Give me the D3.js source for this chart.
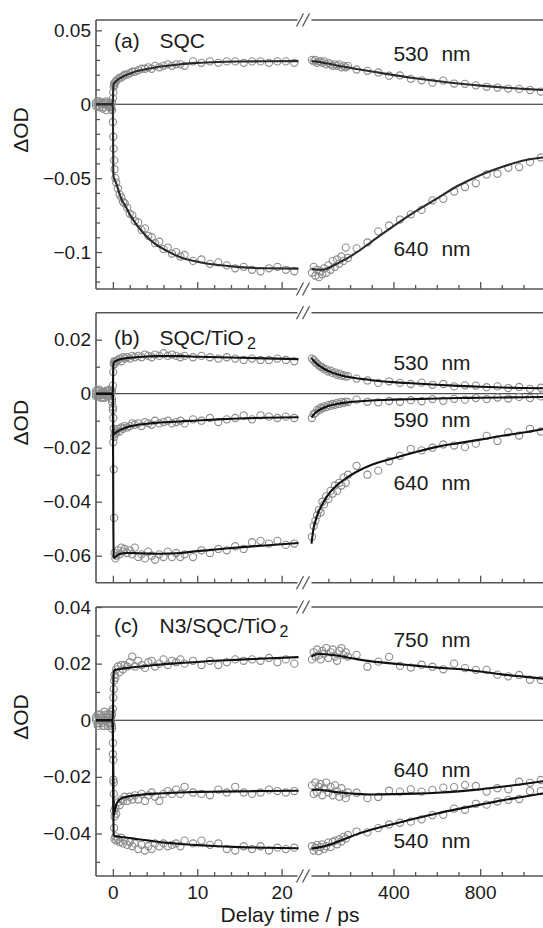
<!DOCTYPE html>
<html>
<head>
<meta charset="utf-8">
<script src="https://cdn.jsdelivr.net/npm/d3@7"></script>
<style>
body { margin: 0; background: #fff; }
svg { display: block; font-family: "Liberation Sans", Arial, Helvetica, sans-serif; }
</style>
</head>
<body>
<script>
// delay times (ps) of the measured points: short window and long window
var tLeft = [-2.0, -1.8, -1.6, -1.4, -1.2, -1.0, -0.8, -0.6, -0.4, -0.2,
  -0.1, 0.0, 0.05, 0.1, 0.15, 0.2, 0.3, 0.4,
  0.6, 0.8, 1.0, 1.2, 1.4, 1.7, 2.0,
  2.3, 2.6, 3.0, 3.4, 3.8, 4.2, 4.6, 5.0,
  5.5, 6.0, 6.5, 7.0, 7.5, 8.0, 8.5,
  9.5, 10.5, 11.5, 12.5, 13.5, 14.5, 15.5, 16.5, 17.5, 18.5, 19.5, 20.5, 21.5];
var tRight = [24, 32, 40, 48, 56, 64, 72, 80, 90, 100, 110, 120, 130, 140, 150, 160, 170, 180, 190,
  230, 280, 330, 380, 430, 480, 530, 580, 630, 680, 730, 780, 830, 880, 930, 980, 1030, 1080];

// time grid of the fitted curves
var fitTLeft = [-2, -0.05, 0, 0.05, 0.1, 0.2, 0.4, 0.7, 1.0, 1.5, 2, 3, 4, 5, 6.5, 8, 10, 12.5, 15, 18, 22];
var fitTRight = [22, 30, 40, 55, 70, 90, 115, 145, 180, 230, 300, 400, 500, 600, 700, 800, 900, 1000, 1090];

// tick labels
var yTicksA = [0.05, 0, -0.05, -0.1];
var yTicksB = [0.02, 0, -0.02, -0.04, -0.06];
var yTicksC = [0.04, 0.02, 0, -0.02, -0.04];
var xTicksLeft = [0, 10, 20];
var xTicksRight = [400, 800];

// (a) SQC
var a530Left = [0.001, -0.001, 0.002, 0.000, -0.002, 0.001, 0.002, -0.001, 0.000, -0.003,
  0.001, 0.004, 0.008, 0.012, 0.014, 0.013, 0.015, 0.016,
  0.017, 0.018, 0.018, 0.019, 0.020, 0.020, 0.021,
  0.022, 0.022, 0.023, 0.024, 0.024, 0.025, 0.024, 0.026,
  0.025, 0.026, 0.027, 0.026, 0.027, 0.027, 0.026,
  0.029, 0.028, 0.029, 0.028, 0.029, 0.029, 0.028, 0.029, 0.029, 0.028, 0.029, 0.029, 0.028];
var a530Right = [0.030, 0.029, 0.030, 0.028, 0.029, 0.029, 0.028, 0.029, 0.027, 0.028, 0.027, 0.026, 0.027, 0.026, 0.027, 0.025, 0.026, 0.025, 0.026,
  0.0235, 0.0226, 0.0215, 0.0193, 0.0195, 0.0172, 0.0162, 0.0146, 0.0160, 0.0140, 0.0138, 0.0128, 0.0118, 0.0113, 0.0106, 0.0104, 0.0096, 0.0086];
var a530FitLeft = [0, 0, 0.002, 0.0125, 0.0137, 0.0145, 0.0157, 0.0171, 0.0181, 0.0196, 0.0207, 0.0226, 0.0238, 0.0249, 0.026, 0.0271, 0.028, 0.0286, 0.0289, 0.0291, 0.0292];
var a530FitRight = [0.0292, 0.0291, 0.029, 0.0287, 0.0283, 0.0277, 0.027, 0.0261, 0.0252, 0.0239, 0.0222, 0.0197, 0.0176, 0.0157, 0.014, 0.0126, 0.0114, 0.0104, 0.0096];

var a640Left = [-0.001, 0.002, -0.002, 0.001, -0.003, 0.000, -0.004, 0.001, -0.002, -0.001,
  -0.004, -0.012, -0.022, -0.030, -0.038, -0.044, -0.050, -0.053,
  -0.057, -0.061, -0.063, -0.066, -0.067, -0.070, -0.074,
  -0.075, -0.079, -0.080, -0.085, -0.084, -0.089, -0.090, -0.094,
  -0.093, -0.098, -0.097, -0.101, -0.100, -0.103, -0.102,
  -0.106, -0.105, -0.108, -0.107, -0.109, -0.111, -0.110, -0.112, -0.113, -0.111, -0.110, -0.112, -0.113];
var a640Right = [-0.114, -0.110, -0.116, -0.112, -0.117, -0.113, -0.115, -0.111, -0.114, -0.109, -0.112, -0.106, -0.110, -0.105, -0.108, -0.103, -0.106, -0.097, -0.104,
  -0.0975, -0.0935, -0.0860, -0.0820, -0.0780, -0.0745, -0.0715, -0.0650, -0.0640, -0.0590, -0.0560, -0.0535, -0.0475, -0.0470, -0.0430, -0.0425, -0.0390, -0.0360];
var a640FitLeft = [0, 0, -0.003, -0.046, -0.0495, -0.051, -0.0535, -0.059, -0.064, -0.069, -0.0745, -0.083, -0.0895, -0.0945, -0.0995, -0.1035, -0.1065, -0.1088, -0.1102, -0.111, -0.1112];
var a640FitRight = [-0.1112, -0.1115, -0.1118, -0.112, -0.112, -0.1115, -0.1098, -0.1075, -0.1048, -0.1003, -0.0929, -0.0825, -0.0727, -0.0638, -0.055, -0.048, -0.0425, -0.038, -0.036];

// (b) SQC/TiO2
var b530Left = [0.001, -0.001, 0.0015, 0.000, -0.0015, 0.0005, 0.001, -0.0005, 0.0015, 0.000,
  0.001, 0.003, 0.008, 0.011, 0.012, 0.011, 0.012, 0.012,
  0.0125, 0.013, 0.012, 0.0135, 0.013, 0.0135, 0.013,
  0.014, 0.0135, 0.014, 0.0135, 0.0145, 0.014, 0.0135, 0.0145,
  0.014, 0.015, 0.014, 0.0145, 0.014, 0.0135, 0.014,
  0.0135, 0.014, 0.0135, 0.013, 0.0135, 0.013, 0.0125, 0.013, 0.0125, 0.0125, 0.013, 0.0125, 0.012];
var b530Right = [0.013, 0.0125, 0.0115, 0.0112, 0.0105, 0.0100, 0.0098, 0.0090, 0.0091, 0.0082, 0.0085, 0.0076, 0.0079, 0.0070, 0.0074, 0.0066, 0.0069, 0.0063, 0.0065,
  0.0056, 0.0049, 0.0040, 0.0046, 0.0040, 0.0036, 0.0041, 0.0033, 0.0036, 0.0027, 0.0031, 0.0030, 0.0024, 0.0027, 0.0021, 0.0025, 0.0018, 0.0022];
var b530FitLeft = [0, 0, 0.001, 0.0105, 0.0115, 0.0118, 0.0122, 0.0126, 0.0128, 0.0131, 0.0133, 0.0136, 0.0138, 0.0139, 0.0139, 0.0139, 0.0137, 0.0135, 0.0133, 0.0131, 0.0128];
var b530FitRight = [0.0133, 0.0124, 0.0116, 0.0105, 0.0097, 0.0088, 0.0079, 0.0071, 0.0064, 0.0057, 0.0050, 0.0043, 0.0038, 0.0033, 0.0029, 0.0026, 0.0023, 0.0021, 0.0020];

var b590Left = [-0.001, 0.001, 0.000, -0.0015, 0.0005, -0.0005, 0.001, -0.001, 0.000, 0.0005,
  -0.003, -0.006, -0.009, -0.013, -0.016, -0.015, -0.014, -0.0145,
  -0.013, -0.014, -0.0125, -0.013, -0.012, -0.0125, -0.012,
  -0.011, -0.0115, -0.011, -0.012, -0.0105, -0.011, -0.0115, -0.010,
  -0.011, -0.0105, -0.010, -0.011, -0.0105, -0.010, -0.011,
  -0.0095, -0.010, -0.009, -0.0105, -0.0095, -0.009, -0.008, -0.0095, -0.008, -0.0085, -0.009, -0.0085, -0.009];
var b590Right = [-0.0090, -0.0075, -0.0072, -0.0060, -0.0062, -0.0052, -0.0055, -0.0047, -0.0050, -0.0042, -0.0045, -0.0038, -0.0041, -0.0034, -0.0038, -0.0030, -0.0034, -0.0029, -0.0031,
  -0.0022, -0.0030, -0.0032, -0.0027, -0.0030, -0.0024, -0.0028, -0.0020, -0.0026, -0.0019, -0.0022, -0.0016, -0.0020, -0.0014, -0.0018, -0.0012, -0.0016, -0.0010];
var b590FitLeft = [0, 0, -0.001, -0.0135, -0.015, -0.0148, -0.0143, -0.0137, -0.0132, -0.0126, -0.0121, -0.0115, -0.0111, -0.0108, -0.0105, -0.0103, -0.0099, -0.0095, -0.0092, -0.0089, -0.0087];
var b590FitRight = [-0.0088, -0.0080, -0.0071, -0.0062, -0.0055, -0.0048, -0.0042, -0.0037, -0.0033, -0.0029, -0.0025, -0.0022, -0.0020, -0.0018, -0.0016, -0.0015, -0.0014, -0.0013, -0.0012];

var b640Left = [0.000, -0.001, 0.001, -0.0005, 0.0005, -0.0015, 0.000, 0.001, -0.001, 0.0005,
  -0.002, -0.005, -0.018, -0.028, -0.046, -0.059, -0.061, -0.060,
  -0.058, -0.0595, -0.057, -0.0585, -0.0575, -0.059, -0.058,
  -0.0595, -0.057, -0.0605, -0.0595, -0.061, -0.0585, -0.060, -0.0615,
  -0.0595, -0.0605, -0.0585, -0.0605, -0.059, -0.0605, -0.0595,
  -0.0605, -0.058, -0.059, -0.0575, -0.058, -0.0565, -0.0575, -0.055, -0.0545, -0.0555, -0.0545, -0.056, -0.0555];
var b640Right = [-0.053, -0.049, -0.047, -0.045, -0.043, -0.044, -0.040, -0.041, -0.038, -0.039, -0.036, -0.037, -0.034, -0.036, -0.033, -0.034, -0.031, -0.033, -0.030,
  -0.0267, -0.0300, -0.0285, -0.0250, -0.0230, -0.0205, -0.0210, -0.0200, -0.0188, -0.0192, -0.0198, -0.0185, -0.0156, -0.0175, -0.0143, -0.0155, -0.0130, -0.0140];
var b640FitLeft = [0, 0, -0.002, -0.045, -0.0605, -0.0608, -0.0602, -0.0595, -0.0592, -0.059, -0.059, -0.0591, -0.0592, -0.0593, -0.0592, -0.059, -0.0583, -0.0576, -0.0569, -0.0562, -0.0553];
var b640FitRight = [-0.0555, -0.0505, -0.0472, -0.0437, -0.0413, -0.0385, -0.0358, -0.0335, -0.0314, -0.0289, -0.0263, -0.0239, -0.0217, -0.0197, -0.0183, -0.0170, -0.0156, -0.0144, -0.0131];

// (c) N3/SQC/TiO2
var c750Left = [0.001, -0.001, 0.002, 0.000, 0.001, -0.002, 0.002, 0.001, -0.001, 0.003,
  0.002, 0.004, 0.008, 0.011, 0.014, 0.016, 0.015, 0.018,
  0.019, 0.017, 0.0195, 0.018, 0.0195, 0.019, 0.0205,
  0.0225, 0.019, 0.021, 0.0195, 0.0185, 0.0205, 0.021, 0.019,
  0.020, 0.0215, 0.0195, 0.021, 0.0205, 0.0215, 0.020,
  0.021, 0.0195, 0.021, 0.0195, 0.0205, 0.0215, 0.021, 0.0215, 0.021, 0.022, 0.0205, 0.0215, 0.020];
var c750Right = [0.0215, 0.0240, 0.0225, 0.0250, 0.0230, 0.0215, 0.0245, 0.0235, 0.0255, 0.0220, 0.0240, 0.0250, 0.0225, 0.0210, 0.0245, 0.0255, 0.0230, 0.0240, 0.0225,
  0.0231, 0.0189, 0.0207, 0.0224, 0.0192, 0.0186, 0.0196, 0.0189, 0.0180, 0.0200, 0.0184, 0.0178, 0.0178, 0.0161, 0.0155, 0.0160, 0.0143, 0.0142];
var c750FitLeft = [0, 0, 0.001, 0.012, 0.0172, 0.0177, 0.0179, 0.018, 0.0182, 0.0184, 0.0186, 0.0189, 0.0192, 0.0195, 0.0199, 0.0202, 0.0206, 0.0211, 0.0214, 0.0218, 0.0223];
var c750FitRight = [0.0224, 0.0229, 0.0232, 0.0234, 0.0234, 0.0233, 0.0231, 0.0228, 0.0223, 0.0216, 0.0208, 0.0200, 0.0193, 0.0186, 0.0181, 0.0172, 0.0162, 0.0154, 0.0147];

var c640Left = [0.000, 0.002, -0.001, 0.001, -0.002, 0.003, 0.000, 0.002, -0.001, 0.001,
  -0.003, -0.012, -0.021, -0.026, -0.032, -0.034, -0.031, -0.033,
  -0.029, -0.030, -0.028, -0.0285, -0.027, -0.0285, -0.027,
  -0.028, -0.0265, -0.028, -0.026, -0.0285, -0.0265, -0.0255, -0.027,
  -0.0285, -0.026, -0.025, -0.026, -0.0245, -0.026, -0.0235,
  -0.0255, -0.026, -0.0265, -0.0245, -0.0255, -0.0235, -0.0255, -0.026, -0.0255, -0.0245, -0.025, -0.0255, -0.025];
var c640Right = [-0.0230, -0.0260, -0.0220, -0.0255, -0.0235, -0.0225, -0.0265, -0.0240, -0.0220, -0.0255, -0.0235, -0.0265, -0.0230, -0.0250, -0.0270, -0.0240, -0.0260, -0.0275, -0.0255,
  -0.0256, -0.0275, -0.0271, -0.0249, -0.0252, -0.0244, -0.0252, -0.0246, -0.0238, -0.0236, -0.0228, -0.0232, -0.0252, -0.0240, -0.0244, -0.0217, -0.0221, -0.0211];
var c640FitLeft = [0, 0, -0.002, -0.025, -0.0335, -0.0322, -0.0298, -0.0283, -0.0276, -0.0271, -0.0268, -0.0264, -0.0261, -0.0259, -0.0257, -0.0255, -0.0253, -0.0252, -0.0251, -0.025, -0.0249];
var c640FitRight = [-0.0247, -0.0246, -0.0245, -0.0245, -0.0246, -0.0248, -0.0251, -0.0254, -0.0257, -0.026, -0.0262, -0.0261, -0.0259, -0.0256, -0.0251, -0.0244, -0.0235, -0.0225, -0.0215];

var c540Left = [0.001, -0.002, 0.000, 0.002, -0.001, 0.000, 0.001, -0.002, 0.002, -0.001,
  -0.002, -0.008, -0.014, -0.022, -0.038, -0.042, -0.041, -0.0425,
  -0.042, -0.043, -0.0415, -0.0435, -0.0425, -0.044, -0.043,
  -0.0445, -0.0435, -0.0455, -0.044, -0.046, -0.0445, -0.0455, -0.0435,
  -0.0445, -0.0435, -0.0445, -0.044, -0.0435, -0.0445, -0.0425,
  -0.0435, -0.0425, -0.044, -0.0435, -0.0455, -0.046, -0.0445, -0.0455, -0.0445, -0.046, -0.045, -0.0455, -0.045];
var c540Right = [-0.0445, -0.0460, -0.0450, -0.0440, -0.0462, -0.0448, -0.0438, -0.0455, -0.0445, -0.0432, -0.0448, -0.0430, -0.0425, -0.0438, -0.0420, -0.0428, -0.0412, -0.0418, -0.0405,
  -0.0393, -0.0396, -0.0381, -0.0368, -0.0362, -0.0358, -0.0350, -0.0335, -0.0334, -0.0312, -0.0316, -0.0295, -0.0298, -0.0287, -0.0281, -0.0278, -0.0250, -0.0250];
var c540FitLeft = [0, 0, -0.003, -0.03, -0.0405, -0.0408, -0.041, -0.0411, -0.0412, -0.0414, -0.0416, -0.042, -0.0424, -0.0428, -0.0433, -0.0437, -0.0441, -0.0445, -0.0448, -0.045, -0.0452];
var c540FitRight = [-0.0452, -0.0452, -0.0451, -0.0449, -0.0447, -0.0443, -0.0437, -0.0428, -0.0418, -0.0403, -0.0386, -0.0366, -0.0347, -0.0329, -0.0313, -0.0298, -0.0283, -0.0270, -0.0258];

// panel table built from the arrays above
var panels = [
  { top: 20, bottom: 289, domain: [-0.125, 0.057], yTicks: yTicksA, tag: '(a)', name: 'SQC', sub: '', tagDy: 28,
    traces: [
      { label: '530', ly: 0.0295, left: a530Left, right: a530Right, fitL: a530FitLeft, fitR: a530FitRight },
      { label: '640', ly: -0.103, left: a640Left, right: a640Right, fitL: a640FitLeft, fitR: a640FitRight }
    ] },
  { top: 312.7, bottom: 582.7, domain: [-0.07, 0.03], yTicks: yTicksB, tag: '(b)', name: 'SQC/TiO', sub: '2', tagDy: 32,
    traces: [
      { label: '530', ly: 0.0088, left: b530Left, right: b530Right, fitL: b530FitLeft, fitR: b530FitRight },
      { label: '590', ly: -0.0123, left: b590Left, right: b590Right, fitL: b590FitLeft, fitR: b590FitRight },
      { label: '640', ly: -0.0357, left: b640Left, right: b640Right, fitL: b640FitLeft, fitR: b640FitRight }
    ] },
  { top: 607, bottom: 876, domain: [-0.055, 0.04], yTicks: yTicksC, tag: '(c)', name: 'N3/SQC/TiO', sub: '2', tagDy: 26,
    traces: [
      { label: '750', ly: 0.0259, left: c750Left, right: c750Right, fitL: c750FitLeft, fitR: c750FitRight },
      { label: '640', ly: -0.020, left: c640Left, right: c640Right, fitL: c640FitLeft, fitR: c640FitRight },
      { label: '540', ly: -0.045, left: c540Left, right: c540Right, fitL: c540FitLeft, fitR: c540FitRight }
    ] }
];

var W = 543, H = 928;
var frameColor = '#555', ink = '#1a1a1a';

var svg = d3.select('body').append('svg').attr('width', W).attr('height', H);

var xLeft = d3.scaleLinear().domain([-2, 22]).range([96, 298.5]);
var xRight = d3.scaleLinear().domain([22, 1090]).range([311.5, W]);
var x0 = xLeft.range()[0];
var breakL = 297.5, breakR = xRight.range()[0], breakMid = 303;

var fmt = function(v) { return v === 0 ? '0' : d3.format('.2~f')(v); };

function zip(ts, vs) {
  return ts.map(function(t, i) { return [t, vs[i]]; });
}

function styleAxis(sel) {
  sel.select('.domain').remove();
  sel.attr('color', frameColor);
  sel.selectAll('.tick line').attr('stroke-width', 1.3);
  sel.selectAll('text').attr('fill', ink).attr('font-size', 19).attr('font-family', null);
}

panels.forEach(function(p, k) {
  var y = d3.scaleLinear().domain(p.domain).range([p.bottom, p.top]);
  var g = svg.append('g');
  var last = k === panels.length - 1;

  // y ticks, inward
  var minorY = d3.range(Math.ceil(p.domain[0] * 100 + 1e-6), Math.floor(p.domain[1] * 100 - 1e-6) + 1)
    .map(function(i) { return i / 100; })
    .filter(function(v) { return p.yTicks.every(function(m) { return Math.abs(m - v) > 1e-9; }); });
  g.append('g').attr('transform', 'translate(' + x0 + ',0)')
    .call(d3.axisLeft(y).tickValues(minorY).tickSize(-4).tickFormat(''))
    .call(styleAxis);
  g.append('g').attr('transform', 'translate(' + x0 + ',0)')
    .call(d3.axisLeft(y).tickValues(p.yTicks).tickSize(-6).tickPadding(5).tickFormat(fmt))
    .call(styleAxis);

  // x ticks, inward, both windows
  var bx = g.append('g').attr('transform', 'translate(0,' + p.bottom + ')');
  bx.append('g').call(d3.axisBottom(xLeft).tickValues([2, 4, 6, 8, 12, 14, 16, 18]).tickSize(-4).tickFormat('')).call(styleAxis);
  bx.append('g').call(d3.axisBottom(xLeft).tickValues(xTicksLeft).tickSize(-7).tickPadding(10)
    .tickFormat(last ? d3.format('d') : '')).call(styleAxis);
  bx.append('g').call(d3.axisBottom(xRight).tickValues([100, 200, 300, 500, 600, 700, 900, 1000]).tickSize(-4).tickFormat('')).call(styleAxis);
  bx.append('g').call(d3.axisBottom(xRight).tickValues(xTicksRight).tickSize(-7).tickPadding(10)
    .tickFormat(last ? d3.format('d') : '')).call(styleAxis);

  // frame with the axis break
  var frame = g.append('g').attr('stroke', frameColor).attr('stroke-width', 1.6).attr('fill', 'none');
  frame.append('line').attr('x1', x0).attr('x2', x0).attr('y1', p.top).attr('y2', p.bottom);
  [p.top, p.bottom].forEach(function(yy) {
    frame.append('line').attr('x1', x0).attr('x2', breakL).attr('y1', yy).attr('y2', yy);
    frame.append('line').attr('x1', breakR).attr('x2', W).attr('y1', yy).attr('y2', yy);
    [-3, 3].forEach(function(dx) {
      frame.append('line')
        .attr('x1', breakMid + dx - 3.5).attr('y1', yy + 6.5)
        .attr('x2', breakMid + dx + 3.5).attr('y2', yy - 6.5)
        .attr('stroke-width', 1.3);
    });
  });

  // zero line
  g.append('line').attr('x1', x0).attr('x2', W).attr('y1', y(0)).attr('y2', y(0))
    .attr('stroke', '#222').attr('stroke-width', 1);

  // measured points
  var dots = g.append('g').attr('fill', 'none').attr('stroke', '#8c8c8c').attr('stroke-width', 1.1);
  p.traces.forEach(function(tr) {
    dots.selectAll(null).data(zip(tLeft, tr.left)).enter().append('circle')
      .attr('cx', function(d) { return xLeft(d[0]); })
      .attr('cy', function(d) { return y(d[1]); })
      .attr('r', 3.6);
    dots.selectAll(null).data(zip(tRight, tr.right)).enter().append('circle')
      .attr('cx', function(d) { return xRight(d[0]); })
      .attr('cy', function(d) { return y(d[1]); })
      .attr('r', 3.6);
  });

  // fitted curves
  var lineL = d3.line().x(function(d) { return xLeft(d[0]); }).y(function(d) { return y(d[1]); }).curve(d3.curveMonotoneX);
  var lineR = d3.line().x(function(d) { return xRight(d[0]); }).y(function(d) { return y(d[1]); }).curve(d3.curveMonotoneX);
  var fits = g.append('g').attr('fill', 'none').attr('stroke', k === 0 ? '#2a2a2a' : '#111')
    .attr('stroke-width', 2.1).attr('stroke-linejoin', 'round');
  p.traces.forEach(function(tr) {
    fits.append('path').attr('d', lineL(zip(fitTLeft, tr.fitL)));
    fits.append('path').attr('d', lineR(zip(fitTRight, tr.fitR)));
  });

  // wavelength labels
  p.traces.forEach(function(tr) {
    var t = g.append('text').attr('x', xRight(400)).attr('y', y(tr.ly))
      .attr('font-size', 21).attr('fill', ink);
    t.append('tspan').text(tr.label);
    t.append('tspan').attr('x', xRight(400) + 48).text('nm');
  });

  // sample label
  var tag = g.append('text').attr('y', p.top + p.tagDy).attr('font-size', 21).attr('fill', ink);
  tag.append('tspan').attr('x', 114).text(p.tag);
  tag.append('tspan').attr('x', 159.5).text(p.name);
  if (p.sub) tag.append('tspan').attr('dx', 3).attr('dy', 4).attr('font-size', 16).text(p.sub);

  // y title
  g.append('text')
    .attr('transform', 'translate(28,' + (p.top + 110) + ') rotate(-90)')
    .attr('text-anchor', 'middle').attr('font-size', 21).attr('fill', ink)
    .text('\u0394OD');
});

svg.append('text').attr('x', 290).attr('y', 921.5).attr('text-anchor', 'middle')
  .attr('font-size', 21).attr('fill', ink).text('Delay time / ps');
</script>
</body>
</html>
